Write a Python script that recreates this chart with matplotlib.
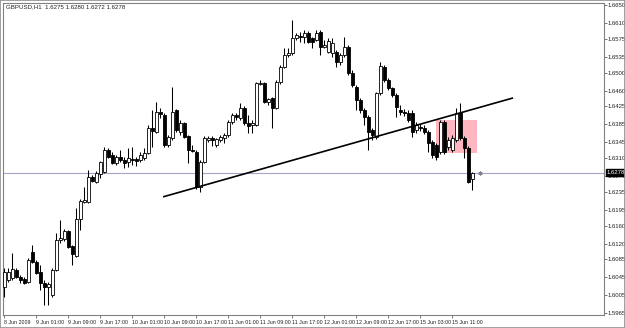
import matplotlib
matplotlib.use("Agg")
import matplotlib.pyplot as plt
import numpy as np
from matplotlib.patches import Rectangle
import matplotlib.font_manager as fm

_names = {f.name for f in fm.fontManager.ttflist}
_fam = [f for f in ['Liberation Sans Narrow', 'Liberation Sans', 'DejaVu Sans'] if f in _names]
plt.rcParams['font.family'] = _fam

# ---- data: GBPUSD H1 candles (open, high, low, close) ----
opens = [1.6024, 1.6039, 1.6044, 1.6061, 1.6046, 1.6041, 1.6035, 1.6101, 1.6079, 1.6057,
         1.6032, 1.6024, 1.6006, 1.6061, 1.6128, 1.6130, 1.6148, 1.6115, 1.6093, 1.6175,
         1.6213, 1.6213, 1.6268, 1.6257, 1.6275, 1.6279, 1.6328, 1.6317, 1.6299, 1.6313,
         1.6306, 1.6302, 1.6308, 1.6308, 1.6306, 1.6310, 1.6322, 1.6377, 1.6368, 1.6413,
         1.6406, 1.6339, 1.6355, 1.6417, 1.6368, 1.6388, 1.6359, 1.6328, 1.6324, 1.6246,
         1.6302, 1.6350, 1.6355, 1.6339, 1.6350, 1.6355, 1.6362, 1.6391, 1.6406, 1.6399,
         1.6422, 1.6388, 1.6384, 1.6384, 1.6475, 1.6477, 1.6435, 1.6444, 1.6422, 1.6479,
         1.6513, 1.6540, 1.6544, 1.6577, 1.6582, 1.6580, 1.6588, 1.6577, 1.6573, 1.6591,
         1.6557, 1.6546, 1.6544, 1.6546, 1.6524, 1.6540, 1.6557, 1.6499, 1.6468, 1.6439,
         1.6417, 1.6402, 1.6373, 1.6357, 1.6455, 1.6513, 1.6484, 1.6466, 1.6450, 1.6417,
         1.6413, 1.6410, 1.6410, 1.6373, 1.6379, 1.6377, 1.6368, 1.6346, 1.6339, 1.6324,
         1.6391, 1.6335, 1.6328, 1.6350, 1.6410, 1.6355, 1.6333, 1.6264]
highs = [1.6066, 1.6066, 1.6099, 1.6066, 1.6050, 1.6046, 1.6088, 1.6117, 1.6084, 1.6072,
         1.6039, 1.6035, 1.6066, 1.6144, 1.6173, 1.6153, 1.6150, 1.6117, 1.6199, 1.6219,
         1.6246, 1.6284, 1.6273, 1.6282, 1.6304, 1.6335, 1.6333, 1.6324, 1.6317, 1.6328,
         1.6313, 1.6333, 1.6335, 1.6313, 1.6324, 1.6333, 1.6384, 1.6417, 1.6435, 1.6422,
         1.6411, 1.6362, 1.6468, 1.6419, 1.6395, 1.6391, 1.6362, 1.6339, 1.6328, 1.6306,
         1.6359, 1.6359, 1.6359, 1.6355, 1.6362, 1.6366, 1.6395, 1.6411, 1.6411, 1.6433,
         1.6426, 1.6406, 1.6395, 1.6479, 1.6484, 1.6479, 1.6444, 1.6446, 1.6484, 1.6517,
         1.6555, 1.6555, 1.6617, 1.6588, 1.6590, 1.6595, 1.6593, 1.6580, 1.6595, 1.6595,
         1.6573, 1.6577, 1.6577, 1.6551, 1.6544, 1.6580, 1.6562, 1.6506, 1.6473, 1.6444,
         1.6422, 1.6406, 1.6377, 1.6457, 1.6524, 1.6517, 1.6488, 1.6468, 1.6455, 1.6428,
         1.6419, 1.6417, 1.6417, 1.6391, 1.6386, 1.6384, 1.6373, 1.6350, 1.6344, 1.6395,
         1.6395, 1.6357, 1.6362, 1.6422, 1.6433, 1.6359, 1.6337, 1.6280]
lows = [1.6001, 1.6035, 1.6039, 1.6044, 1.6032, 1.6030, 1.6032, 1.6077, 1.6052, 1.6017,
        1.5984, 1.5984, 1.6001, 1.6059, 1.6121, 1.6126, 1.6110, 1.6072, 1.6090, 1.6150,
        1.6210, 1.6210, 1.6257, 1.6255, 1.6266, 1.6277, 1.6310, 1.6297, 1.6295, 1.6302,
        1.6288, 1.6290, 1.6295, 1.6293, 1.6302, 1.6306, 1.6319, 1.6335, 1.6366, 1.6399,
        1.6335, 1.6335, 1.6350, 1.6368, 1.6362, 1.6355, 1.6299, 1.6324, 1.6242, 1.6235,
        1.6299, 1.6346, 1.6337, 1.6335, 1.6346, 1.6344, 1.6357, 1.6386, 1.6395, 1.6395,
        1.6384, 1.6366, 1.6366, 1.6382, 1.6473, 1.6433, 1.6428, 1.6377, 1.6419, 1.6475,
        1.6511, 1.6535, 1.6540, 1.6573, 1.6568, 1.6566, 1.6566, 1.6555, 1.6571, 1.6540,
        1.6555, 1.6544, 1.6535, 1.6513, 1.6517, 1.6535, 1.6495, 1.6468, 1.6417, 1.6411,
        1.6384, 1.6328, 1.6350, 1.6353, 1.6450, 1.6479, 1.6462, 1.6446, 1.6402, 1.6406,
        1.6404, 1.6391, 1.6357, 1.6366, 1.6370, 1.6364, 1.6324, 1.6310, 1.6306, 1.6319,
        1.6319, 1.6328, 1.6324, 1.6346, 1.6350, 1.6310, 1.6255, 1.6239]
closes = [1.6057, 1.6057, 1.6064, 1.6046, 1.6039, 1.6032, 1.6084, 1.6079, 1.6055, 1.6032,
          1.6024, 1.6030, 1.6061, 1.6128, 1.6133, 1.6148, 1.6113, 1.6097, 1.6175, 1.6215,
          1.6217, 1.6268, 1.6259, 1.6277, 1.6302, 1.6328, 1.6313, 1.6299, 1.6313, 1.6306,
          1.6299, 1.6310, 1.6306, 1.6304, 1.6317, 1.6322, 1.6377, 1.6371, 1.6413, 1.6408,
          1.6339, 1.6357, 1.6413, 1.6373, 1.6388, 1.6357, 1.6328, 1.6326, 1.6246, 1.6302,
          1.6355, 1.6355, 1.6350, 1.6353, 1.6357, 1.6362, 1.6391, 1.6406, 1.6402, 1.6422,
          1.6388, 1.6382, 1.6388, 1.6477, 1.6477, 1.6435, 1.6442, 1.6422, 1.6479, 1.6513,
          1.6540, 1.6544, 1.6577, 1.6584, 1.6580, 1.6588, 1.6568, 1.6568, 1.6588, 1.6557,
          1.6562, 1.6571, 1.6566, 1.6524, 1.6540, 1.6557, 1.6499, 1.6473, 1.6439, 1.6417,
          1.6402, 1.6368, 1.6362, 1.6455, 1.6515, 1.6484, 1.6466, 1.6450, 1.6424, 1.6413,
          1.6410, 1.6395, 1.6368, 1.6384, 1.6377, 1.6368, 1.6344, 1.6317, 1.6313, 1.6391,
          1.6324, 1.6350, 1.6355, 1.6410, 1.6355, 1.6333, 1.6257, 1.6278]

time_tick_bars = [0, 8, 16, 24, 32, 40, 48, 56, 64, 72, 80, 88, 96, 104, 112]
time_tick_labels = ["8 Jun 2009", "9 Jun 01:00", "9 Jun 09:00", "9 Jun 17:00",
                    "10 Jun 01:00", "10 Jun 09:00", "10 Jun 17:00", "11 Jun 01:00",
                    "11 Jun 09:00", "11 Jun 17:00", "12 Jun 01:00", "12 Jun 09:00",
                    "12 Jun 17:00", "15 Jun 03:00", "15 Jun 11:00"]
price_ticks = [1.6650, 1.6610, 1.6575, 1.6535, 1.6500, 1.6460, 1.6425, 1.6385, 1.6345,
               1.6310, 1.6270, 1.6235, 1.6195, 1.6160, 1.6120, 1.6085, 1.6045, 1.6005, 1.5965]
price_tick_labels = ["%.4f" % p for p in price_ticks]

bid_price = 1.6278
trend_bars = [39.7, 127.2]
trend_prices = [1.6224, 1.6444]
rect_bars = [107.9, 118.25]
rect_prices = [1.6322, 1.6394]
title_text = "GBPUSD,H1  1.6275 1.6280 1.6272 1.6278"

# ---- figure ----
W, H = 625, 328
fig = plt.figure(figsize=(W / 100, H / 100), dpi=100)
fig.patch.set_facecolor("white")
ax = fig.add_axes([3 / W, 13 / H, 601 / W, 312.3 / H])
ax.set_facecolor("white")

n = len(opens)
x = np.arange(n)
o = np.array(opens); h = np.array(highs); l = np.array(lows); c = np.array(closes)

ax.set_xlim(-0.325, -0.325 + 601 / 4)
ax.set_ylim(1.59612, 1.66558)

# rectangle object
ax.add_patch(Rectangle((rect_bars[0], rect_prices[0]), rect_bars[1] - rect_bars[0],
                       rect_prices[1] - rect_prices[0], facecolor="#FFB6C1",
                       edgecolor="none", zorder=1))
# bid line
ax.axhline(bid_price, color="#A4A4C8", lw=0.8, zorder=1.5)

# candles
ax.vlines(x, l, h, color="black", lw=0.75, zorder=3)
bottoms = np.minimum(o, c)
heights = np.maximum(np.abs(c - o), 0.00003)
face = ["white" if cc >= oo else "black" for oo, cc in zip(o, c)]
ax.bar(x, heights, bottom=bottoms, width=0.62, color=face, edgecolor="black",
       linewidth=0.6, zorder=3.5)

# trend line
ax.plot(trend_bars, trend_prices, color="black", lw=1.2, zorder=5,
        solid_capstyle="butt")

# last price marker
ax.plot([n + 0.9], [bid_price], marker=(6, 2, 0), ms=3, color="#808080",
        mew=0.5, zorder=5)

# axes styling
for s in ax.spines.values():
    s.set_color("#808080")
    s.set_linewidth(0.8)

ax.yaxis.tick_right()
ax.set_yticks(price_ticks)
ax.set_yticklabels(price_tick_labels)
ax.tick_params(axis="y", length=2, width=0.6, color="#606060", labelsize=4.3,
               pad=0.6, labelcolor="#202020")
ax.set_xticks(time_tick_bars)
ax.set_xticklabels(time_tick_labels)
for t in ax.get_xticklabels():
    t.set_horizontalalignment("left")
ax.tick_params(axis="x", length=2.5, width=0.6, color="#606060", labelsize=3.8,
               pad=1.0, labelcolor="#202020")

# highlighted current price
ax.annotate("%.4f" % bid_price, xy=(1, bid_price), xycoords=("axes fraction", "data"),
            xytext=(2.0, 0), textcoords="offset points", fontsize=4.3, color="white",
            va="center", ha="left", zorder=10, annotation_clip=False,
            bbox=dict(boxstyle="square,pad=0.1", fc="black", ec="black"))

# title
fig.text(6 / W, 1 - 7 / H, title_text, fontsize=4.4, color="#202020",
         va="center", ha="left")

# outer frame
fig.add_artist(Rectangle((0, 0), 1, 1, transform=fig.transFigure, fill=False,
                         edgecolor="#909090", lw=1.2))

fig.savefig("out.png", dpi=100, facecolor="white")
